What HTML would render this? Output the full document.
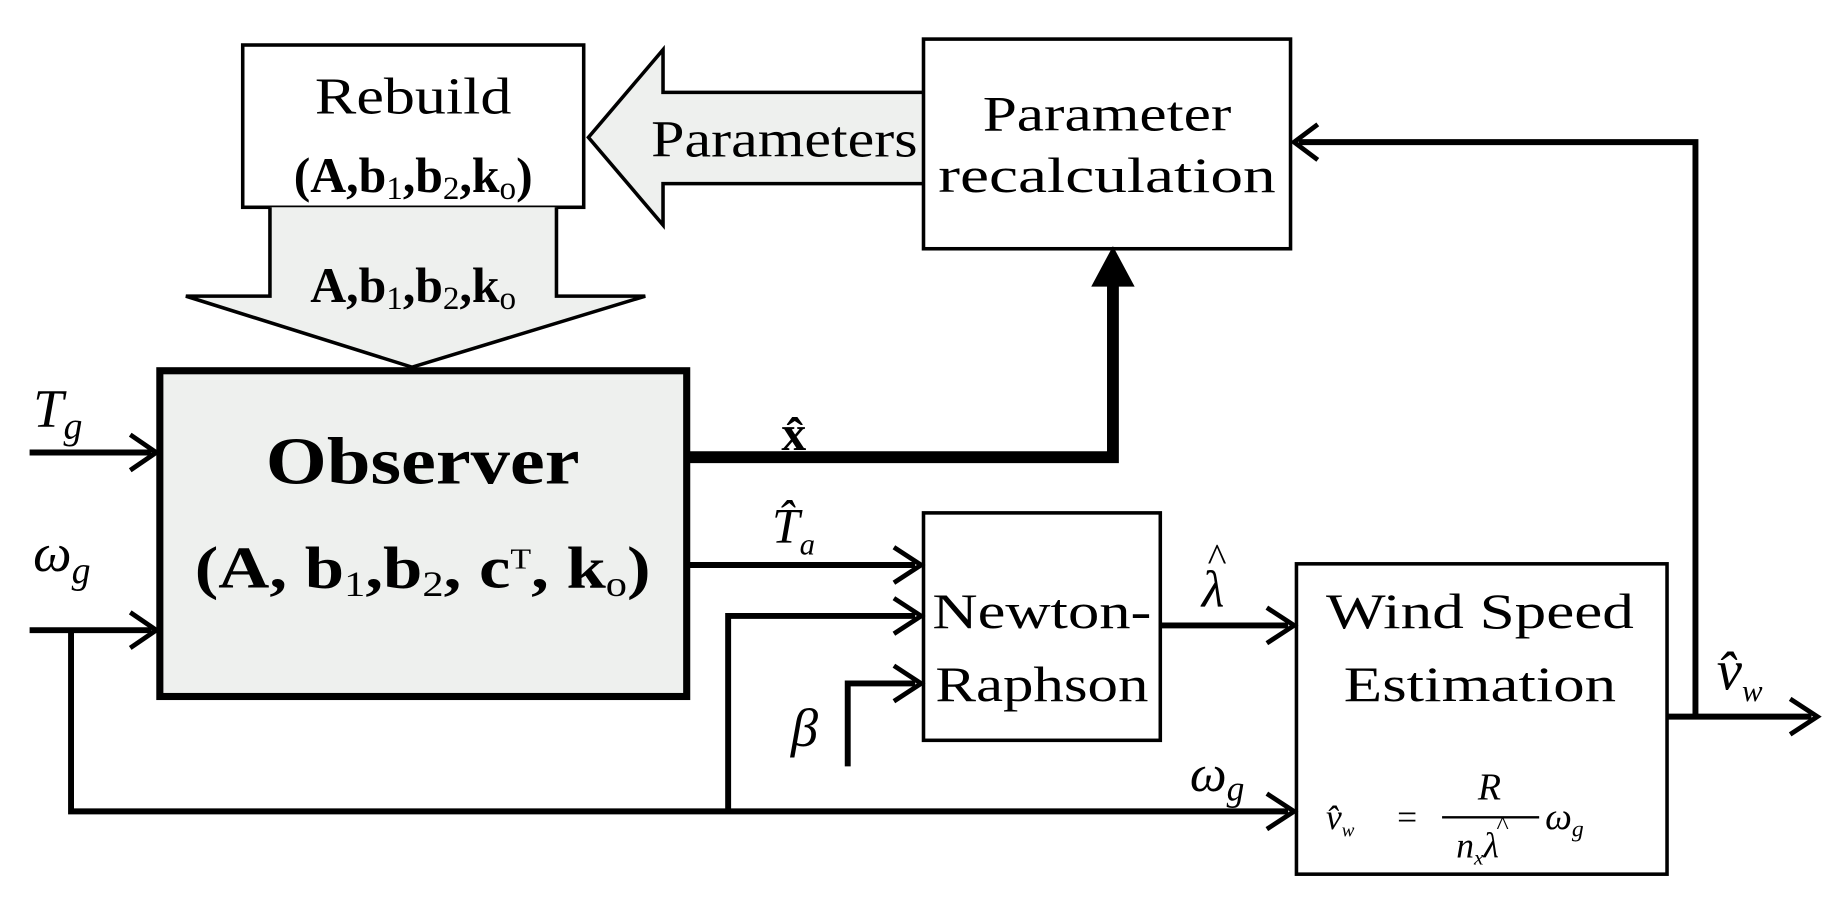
<!DOCTYPE html>
<html><head><meta charset="utf-8"><style>
html,body{margin:0;padding:0;background:#fff;}
svg{display:block}
text{font-family:"Liberation Serif",serif;fill:#000}
</style></head><body>
<svg width="1847" height="918" viewBox="0 0 1560 775" preserveAspectRatio="none" xmlns="http://www.w3.org/2000/svg">
<g fill="none" stroke="#000" stroke-width="3">
<rect x="205" y="38" width="288" height="137" fill="#fff"/>
<path d="M228 175 V250 H157 L348 310 L545 250 H470 V175" fill="#eef0ee"/>
<path d="M780 78 H560 V42 L497 116 L560 190 V155 H780" fill="#eef0ee"/>
<rect x="780" y="33" width="310" height="177" fill="#fff"/>
<rect x="780" y="433" width="200" height="192" fill="#fff"/>
<rect x="1095" y="476" width="313" height="262" fill="#fff"/>
</g>
<rect x="135" y="313" width="445" height="275" fill="#eef0ee" stroke="#000" stroke-width="6"/>
<g fill="none" stroke="#000" stroke-width="5">
<path d="M25 382 H128"/>
<path d="M25 532 H128"/>
<path d="M60 532 V685 H1088"/>
<path d="M615 685 V520 H773"/>
<path d="M716 647 V577 H773"/>
<path d="M580 477 H773"/>
<path d="M980 528 H1088"/>
<path d="M1408 605 H1530"/>
<path d="M1432 605 V120 H1097"/>
<path d="M580 386 H940 V225" stroke-width="10"/>
</g>
<g fill="none" stroke="#000" stroke-width="4">
<path d="M110 367 L132 382 L110 397"/>
<path d="M110 517 L132 532 L110 547"/>
<path d="M755 462 L778 477 L755 492"/>
<path d="M755 505 L778 520 L755 535"/>
<path d="M755 562 L778 577 L755 592"/>
<path d="M1070 513 L1093 528 L1070 543"/>
<path d="M1070 670 L1093 685 L1070 700"/>
<path d="M1512 590 L1535 605 L1512 620"/>
<path d="M1113 105 L1093 120 L1113 135"/>
</g>
<path d="M925 240 L940 212 L955 240 Z" fill="#000" stroke="#000" stroke-width="4"/>
<text x="349" y="96" font-size="44" text-anchor="middle" textLength="166" lengthAdjust="spacingAndGlyphs">Rebuild</text>
<text x="349" y="162" font-size="42" text-anchor="middle" font-weight="bold">(A,b<tspan font-size="28" dy="6" font-weight="normal">1</tspan><tspan dy="-6">,b</tspan><tspan font-size="28" dy="6" font-weight="normal">2</tspan><tspan dy="-6">,k</tspan><tspan font-size="28" dy="6" font-weight="normal">o</tspan><tspan dy="-6">)</tspan></text>
<text x="349" y="255" font-size="42" text-anchor="middle" font-weight="bold">A,b<tspan font-size="28" dy="6" font-weight="normal">1</tspan><tspan dy="-6">,b</tspan><tspan font-size="28" dy="6" font-weight="normal">2</tspan><tspan dy="-6">,k</tspan><tspan font-size="28" dy="6" font-weight="normal">o</tspan></text>
<text x="550" y="132" font-size="44" textLength="225" lengthAdjust="spacingAndGlyphs">Parameters</text>
<text x="935" y="110" font-size="42" text-anchor="middle" font-family="Liberation Sans" textLength="210" lengthAdjust="spacingAndGlyphs">Parameter</text>
<text x="935" y="162" font-size="42" text-anchor="middle" font-family="Liberation Sans" textLength="285" lengthAdjust="spacingAndGlyphs">recalculation</text>
<text x="357" y="408" font-size="56" text-anchor="middle" font-weight="bold" textLength="265" lengthAdjust="spacingAndGlyphs">Observer</text>
<text x="357" y="496" font-size="50" text-anchor="middle" font-weight="bold" textLength="385" lengthAdjust="spacingAndGlyphs">(A, b<tspan font-size="30" dy="7" font-weight="normal">1</tspan><tspan dy="-7">,b</tspan><tspan font-size="30" dy="7" font-weight="normal">2</tspan><tspan dy="-7">, c</tspan><tspan font-size="24" dy="-16" font-weight="normal">T</tspan><tspan dy="16">, k</tspan><tspan font-size="30" dy="7" font-weight="normal">o</tspan><tspan dy="-7">)</tspan></text>
<text x="28" y="360" font-size="46" font-style="italic">T<tspan font-size="32" dy="10">g</tspan></text>
<text x="28" y="482" font-size="46" font-style="italic">ω<tspan font-size="32" dy="10">g</tspan></text>
<text x="660" y="380" font-size="42" font-weight="bold">x̂</text>
<text x="652" y="458" font-size="42" font-style="italic">T̂<tspan font-size="26" dy="10">a</tspan></text>
<text x="880" y="530" font-size="42" text-anchor="middle" font-family="Liberation Sans" textLength="185" lengthAdjust="spacingAndGlyphs">Newton-</text>
<text x="880" y="592" font-size="42" text-anchor="middle" font-family="Liberation Sans" textLength="180" lengthAdjust="spacingAndGlyphs">Raphson</text>
<text x="668" y="630" font-size="46" font-style="italic">β</text>
<text x="1015" y="512" font-size="44" font-style="italic">λ</text>
<text x="1020" y="482" font-size="34">^</text>
<text x="1250" y="530" font-size="42" text-anchor="middle" font-family="Liberation Sans" textLength="260" lengthAdjust="spacingAndGlyphs">Wind Speed</text>
<text x="1250" y="592" font-size="42" text-anchor="middle" font-family="Liberation Sans" textLength="230" lengthAdjust="spacingAndGlyphs">Estimation</text>
<text x="1005" y="668" font-size="44" font-style="italic">ω<tspan font-size="30" dy="8">g</tspan></text>
<text x="1450" y="582" font-size="48" font-style="italic">v̂<tspan font-size="26" dy="10">w</tspan></text>
<text x="1120" y="700" font-size="30" font-style="italic">v̂<tspan font-size="16" dy="6">w</tspan></text>
<text x="1180" y="700" font-size="30">=</text>
<line x1="1218" y1="690" x2="1300" y2="690" stroke="#000" stroke-width="2"/>
<text x="1258" y="675" font-size="32" font-style="italic" text-anchor="middle">R</text>
<text x="1230" y="724" font-size="30" font-style="italic">n<tspan font-size="18" dy="6">x</tspan><tspan dy="-6">λ</tspan></text>
<text x="1264" y="704" font-size="22">^</text>
<text x="1305" y="700" font-size="32" font-style="italic">ω<tspan font-size="20" dy="6">g</tspan></text>
</svg>
</body></html>
